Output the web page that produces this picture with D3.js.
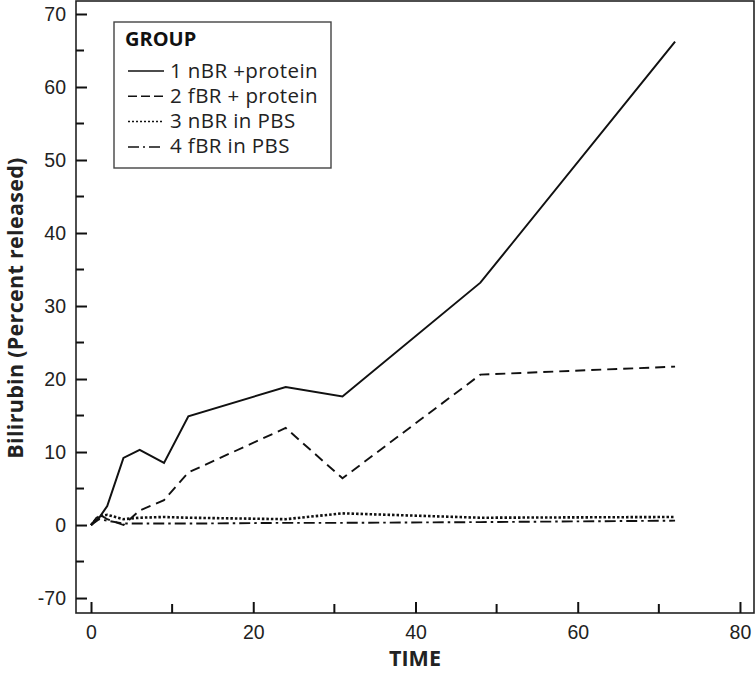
<!DOCTYPE html>
<html>
<head>
<meta charset="utf-8">
<script src="https://cdn.jsdelivr.net/npm/d3@7"></script>
<style>
  body { margin: 0; background: #fff; }
  svg { display: block; font-family: "Open Sans", "Noto Sans", sans-serif; }
</style>
</head>
<body>
<div id="chart"></div>
<script>
// sampling times
const time = [0, 1, 2, 4, 6, 9, 12, 24, 31, 48, 72]

// one array per group
const nbrProtein = [0, 1.0, 2.6, 9.2, 10.3, 8.5, 14.9, 18.9, 17.6, 33.2, 66.2]
const fbrProtein = [0, 1.5, 0.8, 0.0, 2.0, 3.4, 7.2, 13.3, 6.4, 20.6, 21.7]
const nbrPbs = [0, 1.2, 1.4, 0.8, 1.0, 1.1, 1.0, 0.8, 1.6, 1.0, 1.1]
const fbrPbs = [0, 0.8, 0.6, 0.2, 0.2, 0.2, 0.2, 0.3, 0.3, 0.4, 0.6]

const groupNames = ["1 nBR +protein", "2 fBR + protein", "3 nBR in PBS", "4 fBR in PBS"]

// broken axis: the lowest tick stands for -70
const yTickValues = [-10, 0, 10, 20, 30, 40, 50, 60, 70]
const yTickLabels = ["-70", "0", "10", "20", "30", "40", "50", "60", "70"]
const xTickValues = [0, 20, 40, 60, 80]

var width = 756,
    height = 673,
    margin = {top: 1, right: 2, bottom: 60, left: 76};

var svg = d3.select("#chart").append("svg")
    .attr("width", width)
    .attr("height", height)

var x = d3.scaleLinear()
    .domain([-1.85, 81.73])
    .range([margin.left, width - margin.right])

var y = d3.scaleLinear()
    .domain([-12.05, 71.78])
    .range([height - margin.bottom, margin.top])

var series = [nbrProtein, fbrProtein, nbrPbs, fbrPbs].map(function(vals, i){
    return {
        name: groupNames[i],
        values: vals.map(function(v, j){ return {t: time[j], v: v}; })
    };
});

var dashes = [null, "10,6", "2.5,2", "11,4,2.5,4"]
var widths = [2, 1.9, 2.6, 1.9]

// frame
svg.append("rect")
    .attr("x", margin.left)
    .attr("y", margin.top)
    .attr("width", width - margin.left - margin.right)
    .attr("height", height - margin.top - margin.bottom)
    .attr("fill", "none")
    .attr("stroke", "#222")
    .attr("stroke-width", 1.6)

// ticks drawn inward
var yAxis = d3.axisRight(y)
    .tickValues(yTickValues)
    .tickSize(11)
    .tickFormat(function(d, i){ return yTickLabels[i]; })

var gy = svg.append("g")
    .attr("transform", "translate(" + margin.left + ",0)")
    .call(yAxis)
gy.select(".domain").remove()
gy.selectAll(".tick line").attr("stroke", "#111").attr("stroke-width", 2)
gy.selectAll(".tick text")
    .attr("x", -10)
    .attr("text-anchor", "end")
    .attr("font-size", 19.5)
    .attr("fill", "#222")

var yMinor = d3.range(-5, 70, 10)
svg.append("g")
    .selectAll("line")
    .data(yMinor)
    .join("line")
    .attr("x1", margin.left)
    .attr("x2", margin.left + 8)
    .attr("y1", function(d){ return y(d); })
    .attr("y2", function(d){ return y(d); })
    .attr("stroke", "#111")
    .attr("stroke-width", 2)

var xAxis = d3.axisTop(x)
    .tickValues(xTickValues)
    .tickSize(11)
    .tickFormat(d3.format("d"))

var gx = svg.append("g")
    .attr("transform", "translate(0," + (height - margin.bottom) + ")")
    .call(xAxis)
gx.select(".domain").remove()
gx.selectAll(".tick line").attr("stroke", "#111").attr("stroke-width", 2)
gx.selectAll(".tick text")
    .attr("y", 26)
    .attr("dy", 0)
    .attr("font-size", 19.5)
    .attr("fill", "#222")

var xMinor = [10, 30, 50, 70]
svg.append("g")
    .selectAll("line")
    .data(xMinor)
    .join("line")
    .attr("x1", function(d){ return x(d); })
    .attr("x2", function(d){ return x(d); })
    .attr("y1", height - margin.bottom)
    .attr("y2", height - margin.bottom - 9)
    .attr("stroke", "#111")
    .attr("stroke-width", 2)

// axis titles
svg.append("text")
    .attr("transform", "translate(23,308) rotate(-90)")
    .attr("text-anchor", "middle")
    .attr("font-size", 21.5)
    .attr("font-weight", "bold")
    .attr("letter-spacing", 0.3)
    .attr("fill", "#222")
    .text("Bilirubin (Percent released)")

svg.append("text")
    .attr("x", 415)
    .attr("y", 666)
    .attr("text-anchor", "middle")
    .attr("font-size", 21.5)
    .attr("font-weight", "bold")
    .attr("fill", "#222")
    .text("TIME")

// lines
var line = d3.line()
    .x(function(d){ return x(d.t); })
    .y(function(d){ return y(d.v); })

svg.append("g")
    .selectAll("path")
    .data(series)
    .join("path")
    .attr("d", function(d){ return line(d.values); })
    .attr("fill", "none")
    .attr("stroke", "#111")
    .attr("stroke-width", function(d, i){ return widths[i]; })
    .attr("stroke-dasharray", function(d, i){ return dashes[i]; })

// legend
var legend = svg.append("g")

legend.append("rect")
    .attr("x", 114)
    .attr("y", 22)
    .attr("width", 217)
    .attr("height", 146)
    .attr("fill", "#fff")
    .attr("stroke", "#444")
    .attr("stroke-width", 1.4)

legend.append("text")
    .attr("x", 125)
    .attr("y", 46)
    .attr("font-size", 20)
    .attr("font-weight", "bold")
    .attr("fill", "#111")
    .text("GROUP")

var items = legend.selectAll(".item")
    .data(series)
    .join("g")
    .attr("class", "item")
    .attr("transform", function(d, i){ return "translate(0," + (71 + i * 25.3) + ")"; })

items.append("line")
    .attr("x1", 128)
    .attr("x2", 164)
    .attr("stroke", "#111")
    .attr("stroke-width", 1.5)
    .attr("stroke-dasharray", function(d, i){ return ["", "9,4", "2,2", "11,4,2,4"][i]; })

items.append("text")
    .attr("x", 170)
    .attr("y", 6.5)
    .attr("font-size", 20.5)
    .attr("letter-spacing", 0.4)
    .attr("fill", "#222")
    .text(function(d){ return d.name; })
</script>
</body>
</html>
